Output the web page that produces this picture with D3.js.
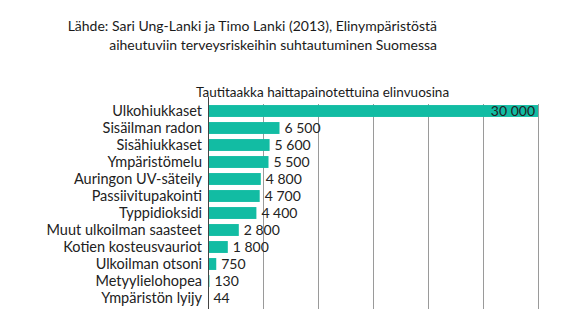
<!DOCTYPE html>
<html>
<head>
<meta charset="utf-8">
<script src="https://cdn.jsdelivr.net/npm/d3@7"></script>
<style>
  html, body { margin: 0; padding: 0; background: #fff; }
  svg { display: block; }
  text { font-family: Lato, "Open Sans", sans-serif; fill: #222; }
</style>
</head>
<body>
<svg id="chart" width="578" height="331"></svg>
<script>
// Environmental health risks in Finland, disability-adjusted life years
const categories = [
  "Ulkohiukkaset",
  "Sisäilman radon",
  "Sisähiukkaset",
  "Ympäristömelu",
  "Auringon UV-säteily",
  "Passiivitupakointi",
  "Typpidioksidi",
  "Muut ulkoilman saasteet",
  "Kotien kosteusvauriot",
  "Ulkoilman otsoni",
  "Metyylielohopea",
  "Ympäristön lyijy"
];
const values = [30000, 6500, 5600, 5500, 4800, 4700, 4400, 2800, 1800, 750, 130, 44];
const valueLabels = ["30 000", "6 500", "5 600", "5 500", "4 800", "4 700", "4 400", "2 800", "1 800", "750", "130", "44"];
const gridTicks = [5000, 10000, 15000, 20000, 25000, 30000];
const titleLines = [
  "Lähde: Sari Ung-Lanki ja Timo Lanki (2013), Elinympäristöstä",
  "aiheutuviin terveysriskeihin suhtautuminen Suomessa"
];
const subtitle = "Tautitaakka haittapainotettuina elinvuosina";

const svg = d3.select("#chart");

const x = d3.scaleLinear().domain([0, 30000]).range([208, 538]);
const y = d3.scaleBand().domain(categories).range([102.5, 306.5]).paddingInner(0.3).paddingOuter(0.15);

// Title, right-aligned block
svg.append("g").selectAll("text").data(titleLines).join("text")
  .attr("x", 437)
  .attr("y", (d, i) => 31 + i * 18.5)
  .attr("text-anchor", "end")
  .style("font-size", "14px")
  .style("fill", "#1a1a1a")
  .text(d => d);

svg.append("text")
  .attr("x", 196)
  .attr("y", 97)
  .style("font-size", "13.5px")
  .style("fill", "#1a1a1a")
  .text(subtitle);

// Vertical gridlines
svg.append("g").selectAll("line").data(gridTicks).join("line")
  .attr("x1", d => Math.round(x(d)) + 0.5)
  .attr("x2", d => Math.round(x(d)) + 0.5)
  .attr("y1", 104)
  .attr("y2", 309)
  .attr("stroke", "#9a9a9a")
  .attr("stroke-width", 1);

// Bars
svg.append("g").selectAll("rect").data(categories).join("rect")
  .attr("x", x(0))
  .attr("y", d => y(d))
  .attr("width", (d, i) => x(values[i]) - x(0))
  .attr("height", y.bandwidth())
  .attr("fill", "#12bca3");

// Axis line
svg.append("line")
  .attr("x1", x(0) + 0.5).attr("x2", x(0) + 0.5)
  .attr("y1", 97).attr("y2", 309)
  .attr("stroke", "#444").attr("stroke-width", 1);

// Category labels
svg.append("g").selectAll("text").data(categories).join("text")
  .attr("x", 202)
  .attr("y", d => y(d) + y.bandwidth() / 2)
  .attr("dy", "0.36em")
  .attr("text-anchor", "end")
  .style("font-size", "14.5px")
  .text(d => d);

// Value labels: inside the bar when it reaches the axis end
svg.append("g").selectAll("text").data(categories).join("text")
  .attr("x", (d, i) => values[i] >= 30000 ? x(values[i]) - 3 : x(values[i]) + 5)
  .attr("y", d => y(d) + y.bandwidth() / 2)
  .attr("dy", "0.36em")
  .attr("text-anchor", (d, i) => values[i] >= 30000 ? "end" : "start")
  .style("font-size", "14px")
  .text((d, i) => valueLabels[i]);
</script>
</body>
</html>
